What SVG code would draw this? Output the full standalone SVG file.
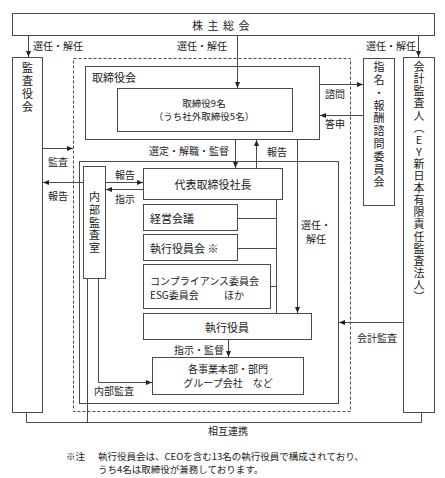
<svg xmlns="http://www.w3.org/2000/svg" width="445" height="478" viewBox="0 0 445 478">
<style>
text{font-family:"Noto Sans CJK JP","Noto Sans",sans-serif;fill:#222;dominant-baseline:central}
.b{fill:#fff;stroke:#4a4a4a;stroke-width:1}
.d{fill:none;stroke:#4a4a4a;stroke-width:1;stroke-dasharray:3 2}
.c{fill:none;stroke:#4a4a4a;stroke-width:1}
.a{marker-end:url(#ah)}
.t11{font-size:11px}
.t10{font-size:10px}
.t95{font-size:9.5px}
.v{writing-mode:vertical-rl;text-orientation:upright;font-size:11px;dominant-baseline:auto}
.m{text-anchor:middle}
</style>
<defs>
<marker id="ah" viewBox="0 0 6 6" refX="6" refY="3" markerWidth="6" markerHeight="6" orient="auto" markerUnits="userSpaceOnUse"><path d="M0,0.5 L6,3 L0,5.5 z" fill="#222"/></marker>
</defs>
<rect width="445" height="478" fill="#fff"/>

<g id="dashed-frame"><rect class="d" x="73.5" y="58.5" width="277" height="353"/></g>
<g id="exec-frame"><rect class="c" x="79.5" y="161.5" width="259" height="242"/></g>

<g id="shareholders"><rect class="b" x="12.5" y="13.5" width="422" height="22"/><text class="t11 m" x="223" y="24.5" letter-spacing="4.5">株主総会</text></g>

<g id="kansayakukai"><rect class="b" x="12.5" y="57.5" width="30" height="355"/><text class="v" x="27.5" y="62.5" letter-spacing="1.9">監査役会</text></g>

<g id="torishimariyakukai"><rect class="b" x="85.5" y="66.5" width="234" height="73"/><text class="t11" x="92" y="77">取締役会</text></g>

<g id="directors"><rect class="b" x="117.5" y="88.5" width="175" height="43"/><text class="t95 m" x="204" y="103">取締役9名</text><text class="t95 m" x="204" y="116">（うち社外取締役5名）</text></g>

<g id="nomination"><rect class="b" x="363.5" y="58.5" width="31" height="147"/><text class="v" x="379" y="61.5" letter-spacing="1.8">指名・報酬諮問委員会</text></g>

<g id="auditor"><rect class="b" x="403.5" y="57.5" width="31" height="355"/><text class="v" x="419" y="61.5" letter-spacing="1.1">会計監査人（EY新日本有限責任監査法人）</text></g>

<g id="internal-audit"><rect class="b" x="83.5" y="166.5" width="22" height="112"/><text class="v" x="94.5" y="191.5" letter-spacing="1.7">内部監査室</text></g>

<g id="ceo"><rect class="b" x="143.5" y="168.5" width="139" height="31"/><text class="t11 m" x="213" y="184">代表取締役社長</text></g>

<g id="keiei"><rect class="b" x="143.5" y="204.5" width="94" height="26"/><text class="t11" x="150" y="217.5">経営会議</text></g>

<g id="shikkoyakuinkai"><rect class="b" x="143.5" y="234.5" width="94" height="26"/><text class="t11" x="150" y="247.5">執行役員会 ※</text></g>

<g id="compliance"><rect class="b" x="143.5" y="264.5" width="127" height="44"/><text class="t10" x="150" y="280">コンプライアンス委員会</text><text class="t10" x="150" y="294">ESG委員会<tspan x="224">ほか</tspan></text></g>

<g id="shikkoyakuin"><rect class="b" x="143.5" y="313.5" width="168" height="26"/><text class="t11 m" x="227" y="326.5">執行役員</text></g>

<g id="divisions"><rect class="b" x="152.5" y="357.5" width="151" height="37"/><text class="t10 m" x="228" y="368.5">各事業本部・部門</text><text class="t10 m" x="228" y="382.5">グループ会社　など</text></g>

<g id="connectors">
<line class="c a" x1="28.5" y1="36" x2="28.5" y2="57"/>
<line class="c a" x1="237.5" y1="36" x2="237.5" y2="88"/>
<line class="c a" x1="418.5" y1="36" x2="418.5" y2="57"/>
<line class="c a" x1="43" y1="148.5" x2="73" y2="148.5"/>
<line class="c a" x1="83" y1="182.5" x2="43" y2="182.5"/>
<line class="c a" x1="106" y1="182.5" x2="143" y2="182.5"/>
<line class="c a" x1="143" y1="189.5" x2="106" y2="189.5"/>
<line class="c a" x1="320" y1="84.5" x2="363" y2="84.5"/>
<line class="c a" x1="363" y1="115.5" x2="320" y2="115.5"/>
<line class="c a" x1="235.5" y1="140" x2="235.5" y2="168"/>
<line class="c a" x1="256.5" y1="168" x2="256.5" y2="140"/>
<line class="c a" x1="297.5" y1="140" x2="297.5" y2="313"/>
<path class="c" d="M276.5,200 V313 M238,218.5 H276.5 M238,248.5 H276.5 M271,286.5 H276.5"/>
<line class="c a" x1="403" y1="322.5" x2="339" y2="322.5"/>
<line class="c a" x1="228.5" y1="340" x2="228.5" y2="357"/>
<path class="c a" d="M98.5,279 V382.5 H152"/>
<path class="c" d="M26.5,413 V422.5 H421.5 V413 M87.5,279 V422.5"/>
</g>

<g id="labels">
<text class="t10" x="33" y="45">選任・解任</text>
<text class="t10" x="177" y="45">選任・解任</text>
<text class="t10" x="366" y="45">選任・解任</text>
<text class="t10 m" x="335" y="93">諮問</text>
<text class="t10 m" x="335" y="123">答申</text>
<text class="t10 m" x="189" y="150">選定・解職・監督</text>
<text class="t10 m" x="277" y="151">報告</text>
<text class="t10 m" x="58" y="161">監査</text>
<text class="t10 m" x="58" y="195">報告</text>
<text class="t10 m" x="125" y="174">報告</text>
<text class="t10 m" x="125" y="198">指示</text>
<text class="t10 m" x="316" y="224.5">選任・</text>
<text class="t10 m" x="316" y="238.5">解任</text>
<text class="t10 m" x="377" y="337">会計監査</text>
<text class="t10 m" x="199" y="349">指示・監督</text>
<text class="t10 m" x="114" y="390">内部監査</text>
<text class="t10 m" x="228" y="430">相互連携</text>
<text class="t95" x="66" y="456">※注</text>
<text class="t95" x="98" y="456">執行役員会は、CEOを含む13名の執行役員で構成されており、</text>
<text class="t95" x="98" y="469">うち4名は取締役が兼務しております。</text>
</g>
</svg>
